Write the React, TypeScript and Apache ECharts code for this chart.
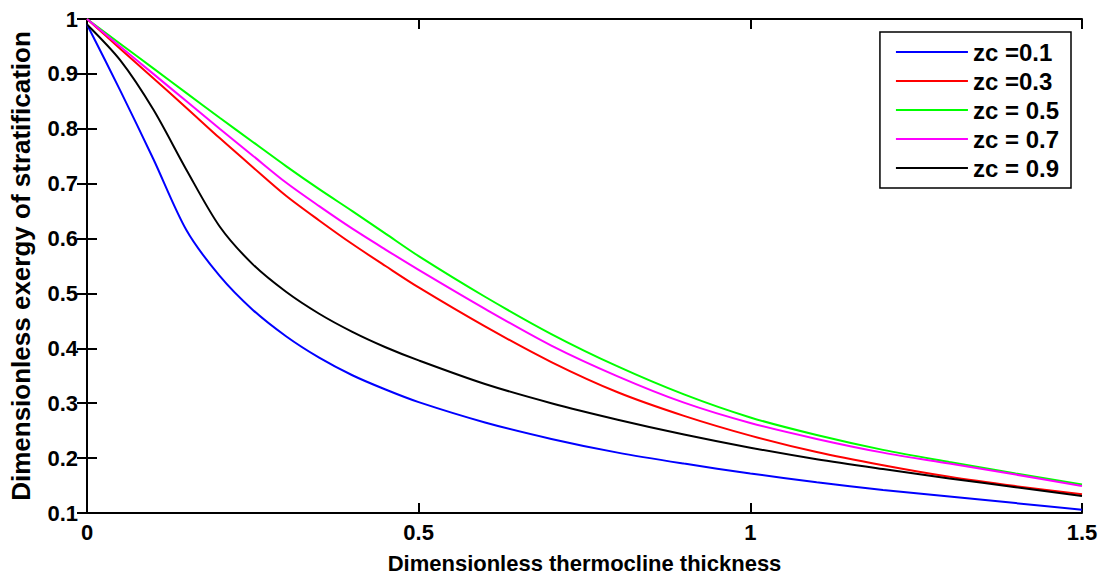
import React, { useEffect, useRef } from "react";
import * as echarts from "echarts";

const xs = [0, 0.05, 0.1, 0.15, 0.2, 0.25, 0.3, 0.35, 0.4, 0.45, 0.5, 0.6, 0.7, 0.8, 0.9, 1.0, 1.1, 1.2, 1.3, 1.4, 1.5];

const zc01 = [0.99, 0.87, 0.745, 0.615, 0.532, 0.47, 0.422, 0.383, 0.351, 0.325, 0.302, 0.265, 0.235, 0.21, 0.19, 0.172, 0.156, 0.142, 0.13, 0.118, 0.106];
const zc03 = [1.0, 0.946, 0.892, 0.838, 0.783, 0.73, 0.678, 0.633, 0.59, 0.55, 0.511, 0.44, 0.375, 0.32, 0.277, 0.241, 0.211, 0.187, 0.166, 0.149, 0.134];
const zc05 = [1.0, 0.955, 0.91, 0.865, 0.82, 0.776, 0.732, 0.69, 0.65, 0.609, 0.568, 0.494, 0.426, 0.367, 0.316, 0.274, 0.242, 0.215, 0.193, 0.172, 0.152];
const zc07 = [1.0, 0.95, 0.9, 0.85, 0.8, 0.751, 0.702, 0.659, 0.618, 0.58, 0.543, 0.472, 0.405, 0.349, 0.301, 0.264, 0.235, 0.21, 0.19, 0.17, 0.149];
const zc09 = [0.99, 0.925, 0.835, 0.725, 0.622, 0.553, 0.503, 0.463, 0.43, 0.402, 0.378, 0.335, 0.3, 0.27, 0.243, 0.219, 0.198, 0.18, 0.163, 0.147, 0.131];

const seriesNames = ["zc =0.1", "zc =0.3", "zc = 0.5", "zc = 0.7", "zc = 0.9"];
const seriesValues = [zc01, zc03, zc05, zc07, zc09];
const seriesColors = ["#0000ff", "#ff0000", "#00ff00", "#ff00ff", "#000000"];

const xTitle = "Dimensionless thermocline thickness";
const yTitle = "Dimensionless exergy of stratification";

const FONT = "'Liberation Sans', Arial, sans-serif";

export default function App() {
  const ref = useRef<HTMLDivElement>(null);
  useEffect(() => {
    if (!ref.current) return;
    const chart = echarts.init(ref.current, undefined, { renderer: "svg" });
    const fmt = (v: number) => String(parseFloat(v.toFixed(2)));
    const axisLine = { show: true, lineStyle: { color: "#000", width: 2 } };
    const axisTick = { show: true, inside: true, length: 10, lineStyle: { color: "#000", width: 2 } };
    const labelStyle = { color: "#000", fontSize: 22, fontWeight: "bold" as const, fontFamily: FONT };
    chart.setOption({
      animation: false,
      backgroundColor: "#fff",
      grid: { left: 86, right: 23, top: 19, bottom: 65, containLabel: false },
      legend: {
        orient: "vertical",
        right: 34,
        top: 32,
        data: seriesNames,
        icon: "rect",
        itemWidth: 72,
        itemHeight: 2,
        itemGap: 5,
        padding: [8, 12, 8, 16],
        borderColor: "#000",
        borderWidth: 1.5,
        borderRadius: 0,
        backgroundColor: "#fff",
        textStyle: { color: "#000", fontSize: 24, fontWeight: "bold", fontFamily: FONT, lineHeight: 24 },
      },
      xAxis: [
        {
          type: "value",
          min: 0,
          max: 1.5,
          interval: 0.5,
          position: "bottom",
          name: xTitle,
          nameLocation: "middle",
          nameGap: 39,
          nameTextStyle: { color: "#000", fontSize: 22, fontWeight: "bold", fontFamily: FONT },
          axisLine,
          axisTick,
          splitLine: { show: false },
          axisLabel: { ...labelStyle, margin: 8, formatter: fmt },
        },
        {
          type: "value",
          min: 0,
          max: 1.5,
          interval: 0.5,
          position: "top",
          axisLine,
          axisTick,
          splitLine: { show: false },
          axisLabel: { show: false },
        },
      ],
      yAxis: [
        {
          type: "value",
          min: 0.1,
          max: 1,
          interval: 0.1,
          position: "left",
          name: yTitle,
          nameLocation: "middle",
          nameGap: 53,
          nameRotate: 90,
          nameTextStyle: { color: "#000", fontSize: 26, fontWeight: "bold", fontFamily: FONT },
          axisLine,
          axisTick,
          splitLine: { show: false },
          axisLabel: { ...labelStyle, margin: 9, formatter: fmt },
        },
        {
          type: "value",
          min: 0.1,
          max: 1,
          interval: 0.1,
          position: "right",
          axisLine,
          axisTick,
          splitLine: { show: false },
          axisLabel: { show: false },
        },
      ],
      series: seriesNames.map((name, i) => ({
        name,
        type: "line",
        xAxisIndex: 0,
        yAxisIndex: 0,
        data: xs.map((x, j) => [x, seriesValues[i][j]]),
        smooth: 0.3,
        symbol: "none",
        showSymbol: false,
        color: seriesColors[i],
        itemStyle: { color: seriesColors[i] },
        lineStyle: { color: seriesColors[i], width: 2 },
      })),
    });
    return () => chart.dispose();
  }, []);
  return (
    <div
      ref={ref}
      style={{ position: "fixed", left: 0, top: 0, width: 1105, height: 579, background: "#fff" }}
    />
  );
}
